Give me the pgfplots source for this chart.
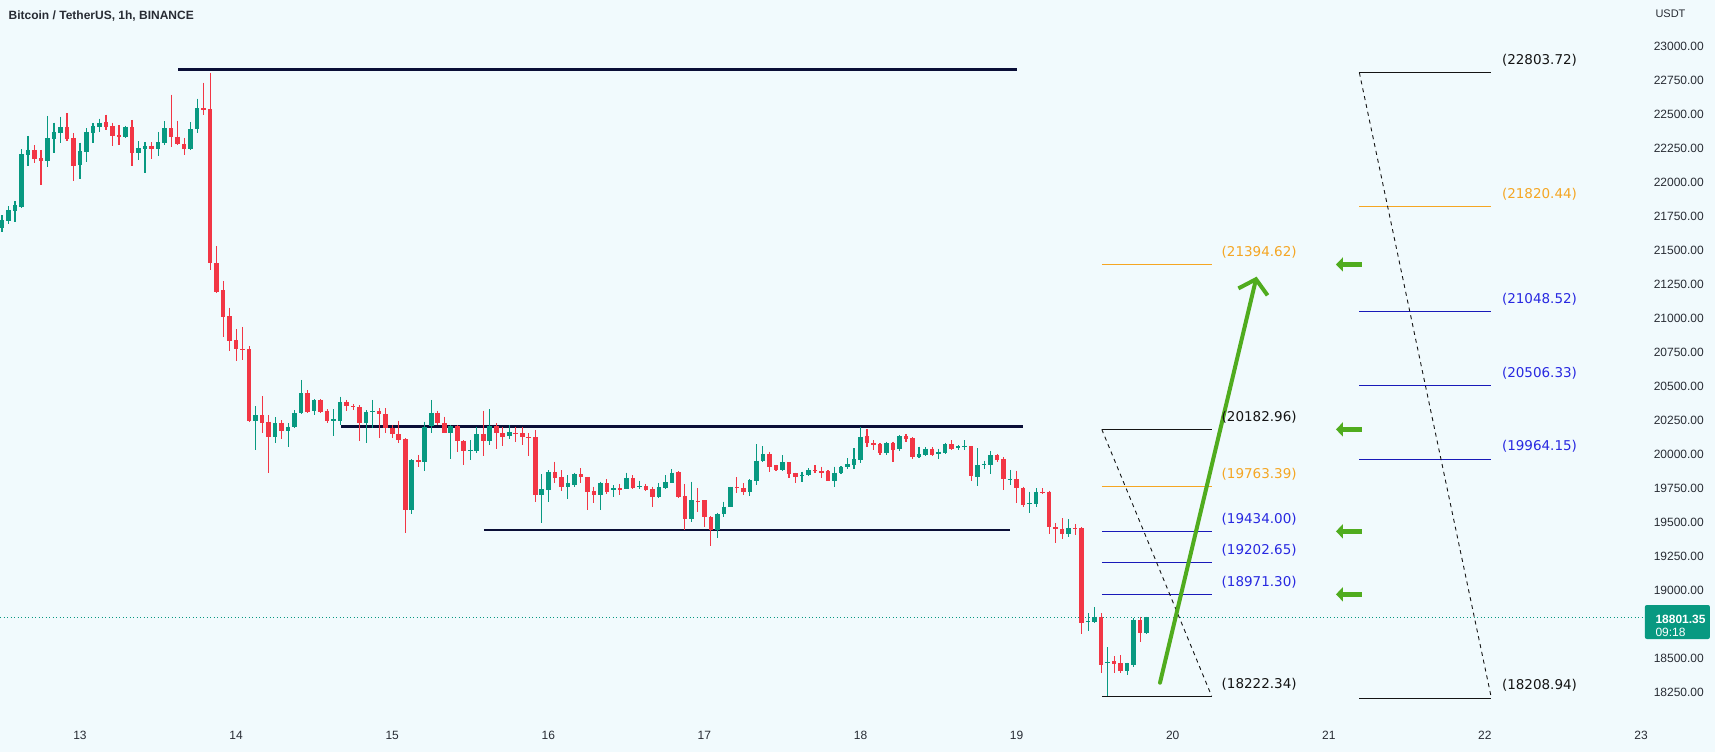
\documentclass[border=0pt]{standalone}
\usepackage{fontspec}
\setmainfont{Liberation Sans}
\newfontfamily\dv{DejaVu Sans}
\usepackage{pgfplots}
\usepackage{pgfplotstable}
\pgfplotsset{compat=1.18}
\usetikzlibrary{arrows.meta}
\definecolor{bg}{RGB}{241,250,253}
\definecolor{cg}{RGB}{8,153,129}
\definecolor{cr}{RGB}{242,54,69}
\definecolor{navy}{RGB}{10,14,55}
\definecolor{tcol}{RGB}{40,44,52}
\definecolor{forange}{RGB}{245,166,35}
\definecolor{fblue}{RGB}{25,25,185}
\definecolor{fbluet}{RGB}{40,40,225}
\definecolor{fblack}{RGB}{20,20,20}
\definecolor{garrow}{RGB}{80,172,30}

\pgfplotstableread{
h O H L C
-12 21660 21758 21636 21721
-11 21717 21824 21692 21795
-10 21790 21859 21709 21829
-9 21819 22241 21810 22206
-8 22201 22339 22118 22236
-5 22157 22486 22113 22324
-4 22319 22437 22216 22368
-3 22363 22481 22290 22402
0 22123 22290 22025 22226
1 22223 22397 22150 22368
2 22363 22432 22285 22412
3 22402 22466 22370 22437
7 22329 22412 22321 22407
9 22216 22299 22162 22250
10 22246 22294 22069 22265
12 22241 22368 22192 22294
13 22290 22446 22270 22397
17 22241 22441 22236 22388
18 22388 22613 22363 22544
27 20247 20354 20031 20288
30 20129 20271 20080 20227
32 20173 20227 20051 20203
33 20198 20325 20191 20301
34 20301 20546 20296 20448
36 20320 20404 20289 20399
39 20247 20330 20134 20256
40 20247 20423 20215 20386
44 20227 20325 20080 20313
45 20311 20399 20191 20319
51 19590 19965 19560 19958
53 19940 20240 19880 20203
54 20208 20399 20154 20306
57 20159 20215 19963 20208
60 20026 20105 19958 20034
61 20026 20203 20007 20149
63 20100 20330 20068 20208
66 20134 20215 20110 20164
71 19703 19855 19497 19742
72 19737 19884 19652 19870
75 19762 19845 19674 19791
76 19774 19865 19762 19855
80 19703 19799 19591 19786
82 19737 19774 19684 19752
84 19747 19865 19742 19826
86 19760 19806 19742 19768
89 19684 19791 19676 19757
90 19752 19845 19742 19796
91 19791 19889 19786 19865
94 19527 19799 19505 19664
98 19444 19571 19385 19561
99 19561 19652 19542 19615
100 19615 19762 19610 19762
103 19723 19816 19693 19811
104 19806 20075 19774 19953
105 19948 20061 19946 20002
108 19884 19992 19880 19943
111 19841 19872 19799 19849
112 19845 19897 19840 19884
116 19806 19909 19757 19865
117 19860 19914 19855 19909
118 19904 19970 19889 19929
119 19924 20046 19889 19963
120 19958 20203 19938 20129
124 20012 20093 19995 20080
126 20036 20139 20026 20134
129 19982 20056 19970 20002
130 19997 20051 19987 20041
132 20002 20041 19963 20019
133 20012 20085 20002 20075
135 20050 20068 20031 20058
136 20056 20105 20031 20064
138 19835 20044 19767 19921
139 19924 19953 19889 19932
140 19924 20026 19855 19992
143 19813 19885 19774 19821
146 19634 19725 19571 19642
147 19635 19750 19610 19725
152 19414 19522 19395 19456
155 18765 18832 18704 18773
156 18768 18876 18763 18807
158 18466 18582 18222.34 18474
161 18410 18469 18378 18464
162 18452 18795 18440 18783
164 18685 18807 18680 18801.35
}\greenc

\pgfplotstableread{
h O H L C
-7 22236 22270 22138 22167
-6 22177 22236 21979 22157
-2 22402 22505 22304 22319
-1 22324 22358 22010 22118
4 22441 22495 22383 22407
5 22412 22437 22268 22341
6 22346 22419 22275 22329
8 22405 22456 22118 22216
11 22265 22294 22172 22241
14 22397 22642 22260 22329
15 22334 22451 22270 22280
16 22280 22324 22197 22241
19 22544 22730 22495 22530
20 22537 22803.72 21354 21403
21 21403 21530 21182 21195
22 21207 21275 20859 21011
23 21016 21077 20761 20835
24 20839 20918 20688 20771
25 20771 20937 20693 20763
26 20773 20795 20237 20247
28 20288 20428 20159 20232
29 20240 20288 19866 20129
31 20227 20252 20110 20173
35 20448 20472 20301 20313
37 20399 20404 20306 20313
38 20320 20330 20227 20247
41 20386 20399 20320 20355
42 20355 20370 20325 20347
43 20345 20362 20100 20227
46 20318 20338 20117 20296
47 20296 20338 20154 20191
48 20191 20215 20117 20149
49 20149 20247 20080 20105
50 20110 20117 19420 19590
52 19958 19995 19909 19940
55 20306 20320 20215 20227
56 20227 20276 20154 20159
58 20208 20212 20019 20100
59 20100 20105 19921 20026
62 20149 20320 19987 20100
64 20208 20227 20036 20154
65 20154 20203 20061 20129
67 20154 20203 20093 20146
68 20154 20203 20068 20129
69 20127 20154 19987 20119
70 20124 20178 19652 19703
73 19870 19946 19791 19826
74 19835 19884 19733 19762
77 19855 19897 19791 19831
78 19835 19835 19591 19725
79 19728 19762 19644 19703
81 19786 19816 19708 19723
83 19749 19782 19701 19741
85 19826 19845 19747 19752
87 19767 19782 19733 19737
88 19742 19762 19615 19684
92 19870 19875 19676 19689
93 19693 19782 19444 19527
95 19659 19750 19578 19651
96 19664 19664 19468 19537
97 19537 19546 19326 19444
101 19757 19831 19713 19749
102 19752 19786 19701 19723
106 20002 20019 19872 19909
107 19919 19924 19875 19884
109 19943 19943 19826 19855
110 19860 19865 19791 19831
113 19884 19919 19860 19876
114 19880 19909 19826 19865
115 19875 19884 19806 19806
121 20134 20183 20051 20080
122 20080 20105 20031 20072
123 20075 20080 19992 20012
125 20080 20093 19946 20031
127 20134 20149 20093 20110
128 20117 20124 19963 19982
131 20041 20051 19987 19997
134 20075 20105 20031 20041
137 20061 20061 19806 19840
141 19992 20002 19943 19958
142 19963 19978 19738 19816
144 19816 19880 19645 19750
145 19750 19762 19615 19627
148 19725 19750 19708 19717
149 19725 19733 19414 19463
150 19463 19493 19346 19449
151 19454 19529 19375 19414
153 19456 19488 19407 19448
154 19456 19463 18680 18763
157 18807 18832 18391 18452
159 18479 18518 18396 18459
160 18464 18525 18391 18410
163 18783 18807 18623 18685
}\redc

\begin{document}
\begin{tikzpicture}
\begin{axis}[
  scale only axis, width=1715pt, height=752pt,
  xmin=-12.30, xmax=251.38, ymin=17813, ymax=23337.6,
  axis background/.style={fill=bg},
  axis line style={draw=none},
  tick style={draw=none}, major tick length=0pt,
  xtick={0,24,48,72,96,120,144,168,192,216,240},
  xticklabels={13,14,15,16,17,18,19,20,21,22,23},
  xticklabel style={anchor=center, yshift=17pt, inner sep=0pt, font=\fontsize{12}{12}\selectfont, text=tcol},
  ytick={18250,18500,19000,19250,19500,19750,20000,20250,20500,20750,21000,21250,21500,21750,22000,22250,22500,22750,23000},
  yticklabel pos=right,
  scaled y ticks=false,
  yticklabel style={/pgf/number format/fixed, /pgf/number format/fixed zerofill, /pgf/number format/precision=2, /pgf/number format/1000 sep={}, /pgf/number format/assume math mode=true, anchor=east, inner sep=0pt, xshift=-11pt, font=\fontsize{12}{12}\selectfont, text=tcol},
]
% horizontal structure lines
\addplot[line width=2.6pt, color=navy] coordinates {(15.1,22825) (144.1,22825)};
\addplot[line width=2.6pt, color=navy] coordinates {(40.2,20205) (145,20205)};
\addplot[line width=2.6pt, color=navy] coordinates {(62.1,19444) (143,19444)};
% current price line
\addplot[line width=0.8pt, color=cg, dash pattern=on 1pt off 2.5pt] coordinates {(-12.3,18801.35) (240.6,18801.35)};
% candles: wicks
\addplot[draw=none, mark=none, error bars/.cd, y dir=minus, y explicit, error mark=none, error bar style={line width=1.1pt, draw=cg}]
  table[x=h, y=H, y error minus expr=\thisrow{H}-\thisrow{L}] {\greenc};
\addplot[draw=none, mark=none, error bars/.cd, y dir=minus, y explicit, error mark=none, error bar style={line width=1.1pt, draw=cr}]
  table[x=h, y=H, y error minus expr=\thisrow{H}-\thisrow{L}] {\redc};
% candles: bodies
\addplot[draw=none, mark=none, error bars/.cd, y dir=minus, y explicit, error mark=none, error bar style={line width=4.6pt, draw=cg}]
  table[x=h, y expr={max(\thisrow{O},\thisrow{C})}, y error minus expr={max(abs(\thisrow{C}-\thisrow{O}),8)}] {\greenc};
\addplot[draw=none, mark=none, error bars/.cd, y dir=minus, y explicit, error mark=none, error bar style={line width=4.6pt, draw=cr}]
  table[x=h, y expr={max(\thisrow{O},\thisrow{C})}, y error minus expr={max(abs(\thisrow{C}-\thisrow{O}),8)}] {\redc};
% middle fib block
\addplot[line width=1pt, color=forange] coordinates {(157.1,21394.62) (174.0,21394.62)};
\addplot[line width=1pt, color=fblack] coordinates {(157.1,20182.96) (174.0,20182.96)};
\addplot[line width=1pt, color=forange] coordinates {(157.1,19763.39) (174.0,19763.39)};
\addplot[line width=1pt, color=fblue] coordinates {(157.1,19434.00) (174.0,19434.00)};
\addplot[line width=1pt, color=fblue] coordinates {(157.1,19202.65) (174.0,19202.65)};
\addplot[line width=1pt, color=fblue] coordinates {(157.1,18971.30) (174.0,18971.30)};
\addplot[line width=1pt, color=fblack] coordinates {(157.1,18222.34) (174.0,18222.34)};
\addplot[line width=0.9pt, color=fblack, dash pattern=on 4pt off 4pt] coordinates {(157.1,20182.96) (174.0,18222.34)};
% right fib block
\addplot[line width=1pt, color=fblack] coordinates {(196.7,22803.72) (217.0,22803.72)};
\addplot[line width=1pt, color=forange] coordinates {(196.7,21820.44) (217.0,21820.44)};
\addplot[line width=1pt, color=fblue] coordinates {(196.7,21048.52) (217.0,21048.52)};
\addplot[line width=1pt, color=fblue] coordinates {(196.7,20506.33) (217.0,20506.33)};
\addplot[line width=1pt, color=fblue] coordinates {(196.7,19964.15) (217.0,19964.15)};
\addplot[line width=1pt, color=fblack] coordinates {(196.7,18208.94) (217.0,18208.94)};
\addplot[line width=0.9pt, color=fblack, dash pattern=on 4pt off 4pt] coordinates {(196.7,22803.72) (217.0,18208.94)};
% big green arrow
\addplot[line width=4pt, color=garrow, line cap=round, -{Straight Barb[length=13pt,width=30pt]}] coordinates {(166.05,18322) (180.9,21305)};
% small green arrows
\addplot[line width=4.5pt, color=garrow, -{Triangle[length=7pt,width=14pt]}] coordinates {(197.1,21394.62) (193.1,21394.62)};
\addplot[line width=4.5pt, color=garrow, -{Triangle[length=7pt,width=14pt]}] coordinates {(197.1,20182.96) (193.1,20182.96)};
\addplot[line width=4.5pt, color=garrow, -{Triangle[length=7pt,width=14pt]}] coordinates {(197.1,19434.00) (193.1,19434.00)};
\addplot[line width=4.5pt, color=garrow, -{Triangle[length=7pt,width=14pt]}] coordinates {(197.1,18971.30) (193.1,18971.30)};
% fib labels
\begin{scope}[every node/.style={anchor=west, inner sep=0pt, yshift=12.5pt, font=\dv\fontsize{13.5}{14}\selectfont}]
\node[text=forange] at (axis cs:175.5,21394.62) {(21394.62)};
\node[text=fblack]  at (axis cs:175.5,20182.96) {(20182.96)};
\node[text=forange] at (axis cs:175.5,19763.39) {(19763.39)};
\node[text=fbluet]  at (axis cs:175.5,19434.00) {(19434.00)};
\node[text=fbluet]  at (axis cs:175.5,19202.65) {(19202.65)};
\node[text=fbluet]  at (axis cs:175.5,18971.30) {(18971.30)};
\node[text=fblack]  at (axis cs:175.5,18222.34) {(18222.34)};
\node[text=fblack]  at (axis cs:218.6,22803.72) {(22803.72)};
\node[text=forange] at (axis cs:218.6,21820.44) {(21820.44)};
\node[text=fbluet]  at (axis cs:218.6,21048.52) {(21048.52)};
\node[text=fbluet]  at (axis cs:218.6,20506.33) {(20506.33)};
\node[text=fbluet]  at (axis cs:218.6,19964.15) {(19964.15)};
\node[text=fblack]  at (axis cs:218.6,18208.94) {(18208.94)};
\end{scope}
% title and scale header
\node[anchor=west, inner sep=0pt, font=\bfseries\fontsize{12}{14}\selectfont, text=tcol] at (axis cs:-11.0,23220) {Bitcoin / TetherUS, 1h, BINANCE};
\node[anchor=west, inner sep=0pt, font=\fontsize{11}{12}\selectfont, text=tcol] at (axis cs:242.2,23234.7) {USDT};
% last price box
\fill[cg, rounded corners=2pt] (axis cs:240.6,18892.9) rectangle (axis cs:250.6,18643.1);
\node[anchor=west, inner sep=0pt, text=white, font=\bfseries\fontsize{12}{12}\selectfont] at (axis cs:242.2,18787.9) {18801.35};
\node[anchor=west, inner sep=0pt, text=white, font=\fontsize{12}{12}\selectfont] at (axis cs:242.2,18689.4) {09:18};
\end{axis}
\pgfresetboundingbox
\useasboundingbox (current axis.south west) rectangle (current axis.north east);
\end{tikzpicture}
\end{document}
